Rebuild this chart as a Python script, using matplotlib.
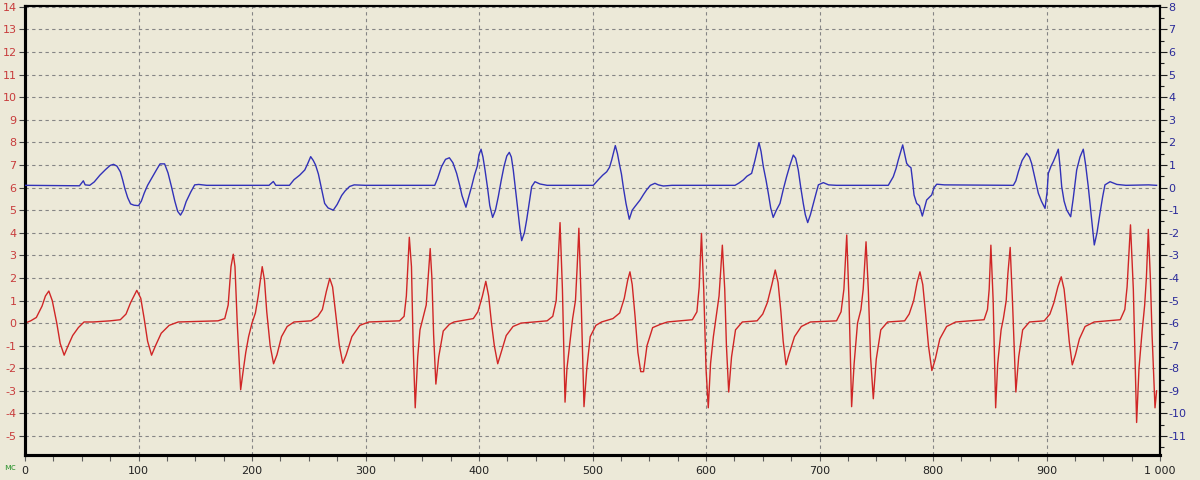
import matplotlib
matplotlib.use("Agg")
import matplotlib.pyplot as plt
from matplotlib.ticker import MultipleLocator, FixedLocator, FixedFormatter

plt.rcParams['axes.unicode_minus'] = False

# ---- data (time in ms) ----
red_t = [0, 5, 10, 15, 18, 21, 24, 28, 31, 34.5, 38, 42, 47, 52, 60, 75,
         84, 89, 93, 98.5, 102, 105, 108, 111.5, 115, 120, 127, 135, 170,
         176, 179, 181.5, 183.5, 185, 187, 190, 192, 194.5, 197, 200, 203, 205.5, 209, 211, 213, 216, 219, 222, 226, 231, 237,
         252, 258, 262, 265.5, 268.5, 271, 274, 277, 280, 283, 288, 295, 303,
         330, 334, 336, 338.6, 340.5, 342, 343.8, 346, 348, 351, 353.5, 355.5, 357, 358.5, 360, 362, 364.5, 368.5, 374, 378,
         395, 399, 403, 406, 408.5, 411, 413.5, 416.5, 419.5, 424, 430, 437,
         460, 465, 468, 471.4, 473.5, 475.8, 477.5, 480, 482.5, 485, 486.5, 488, 490, 492.5, 495, 498, 503, 508,
         518, 524, 528, 531, 533, 535, 537.5, 540, 542.5, 545, 548, 553, 560, 566,
         588, 592, 594, 596, 598, 600, 602, 604, 606.5, 609, 611.5, 614.4, 616.5, 618, 620, 622.5, 626, 632,
         645, 650, 654, 658, 661, 663.5, 666, 668, 670.5, 673, 678, 684, 692,
         715, 719, 721.5, 724, 726, 728.3, 730.5, 733.5, 736.5, 738.5, 741, 743, 745, 747.4, 750, 754, 760,
         775, 779, 783, 786, 788.5, 791, 793.5, 796, 799, 802, 806, 812, 820,
         845, 848, 849.5, 851, 853, 855.2, 857, 860, 862, 864.5, 866, 868, 870, 873, 875.5, 879, 885,
         898, 903, 906.5, 910, 913, 915.5, 918, 920, 922.7, 925.5, 929, 934, 942,
         965, 969, 971, 974, 976.5, 979.4, 981.5, 984, 986.5, 988, 989.7, 991.5, 993, 995.6, 997]
red_v = [0.0, 0.1, 0.25, 0.75, 1.2, 1.42, 1.0, 0.0, -0.9, -1.42, -1.0, -0.55, -0.2, 0.05, 0.05, 0.1,
         0.15, 0.4, 0.9, 1.45, 1.1, 0.2, -0.8, -1.42, -1.0, -0.45, -0.1, 0.05, 0.1,
         0.2, 0.8, 2.5, 3.05, 2.5, 0.0, -2.95, -2.2, -1.3, -0.6, 0.0, 0.45, 1.2, 2.5, 1.9, 0.5, -1.0, -1.8, -1.4, -0.6, -0.15, 0.05,
         0.1, 0.3, 0.6, 1.4, 1.98, 1.6, 0.3, -1.0, -1.78, -1.4, -0.6, -0.1, 0.05,
         0.1, 0.3, 1.2, 3.8, 2.5, -1.0, -3.75, -1.5, -0.3, 0.3, 0.8, 2.2, 3.3, 2.0, -0.5, -2.7, -1.5, -0.35, -0.05, 0.05,
         0.2, 0.5, 1.2, 1.85, 1.2, 0.0, -1.0, -1.8, -1.3, -0.55, -0.15, 0.0,
         0.1, 0.3, 1.0, 4.45, 1.5, -3.5, -2.0, -0.9, 0.2, 1.0, 2.5, 4.2, 1.0, -3.7, -2.0, -0.6, -0.1, 0.05,
         0.2, 0.45, 1.1, 1.9, 2.27, 1.7, 0.3, -1.3, -2.15, -2.15, -1.0, -0.2, -0.05, 0.05,
         0.15, 0.5, 1.6, 3.97, 1.5, -2.0, -3.75, -1.8, -0.6, 0.3, 1.2, 3.45, 1.5, -1.0, -3.05, -1.5, -0.3, 0.05,
         0.1, 0.4, 0.9, 1.7, 2.35, 1.8, 0.5, -0.8, -1.85, -1.4, -0.6, -0.15, 0.05,
         0.1, 0.5, 1.5, 3.9, 1.0, -3.7, -1.8, 0.0, 0.6, 1.5, 3.6, 1.5, -1.5, -3.35, -1.6, -0.3, 0.05,
         0.1, 0.4, 1.0, 1.8, 2.27, 1.7, 0.4, -1.0, -2.1, -1.6, -0.7, -0.15, 0.05,
         0.15, 0.6, 1.5, 3.45, 1.0, -3.75, -1.8, -0.3, 0.2, 1.0, 2.2, 3.35, 1.0, -3.05, -1.5, -0.3, 0.05,
         0.1, 0.4, 0.9, 1.6, 2.05, 1.5, 0.3, -0.8, -1.85, -1.4, -0.7, -0.15, 0.05,
         0.15, 0.6, 1.6, 4.35, 1.5, -4.4, -2.0, -0.5, 0.8, 2.0, 4.15, 2.0, -0.5, -3.75, -3.0]

blue_t = [0, 48, 51.4, 53, 57, 61, 66, 71, 75, 78, 81, 84, 86, 88, 90.5, 93, 96, 100, 102.5, 105, 108, 112, 116, 119, 123, 126, 129, 132, 134.5, 137, 139.5, 142, 146, 149.5, 153, 160,
          215, 218.8, 221, 233, 237, 242, 246.5, 249, 251.7, 254, 256, 258.5, 261, 264, 267, 271.6, 275, 279, 282, 286, 290, 300,
          361, 363.5, 367, 370.5, 373.9, 377, 380.3, 383, 385, 388.5, 391, 393.5, 396, 398.5, 400, 401.8, 403.5, 405.3, 407.5, 409.5, 412, 414.5, 417, 419.5, 422, 424.5, 426.7, 428.5, 430.2, 432, 434, 436, 437.6, 440, 442, 444.5, 446.4, 449.3, 453.7, 460,
          500.7, 505, 509, 512.5, 515, 516.9, 520.1, 522, 523.6, 525.5, 527.1, 529.5, 532.4, 535, 537.4, 541.9, 545, 547.7, 551, 555, 558, 562.4, 570,
          625.6, 629, 632.9, 636, 640.2, 643.2, 646.7, 648.5, 650.5, 653, 654.9, 657, 659.2, 662, 665.2, 668, 671, 674, 676.9, 679, 681.3, 683.5, 685.7, 687.5, 689.6, 692, 694.6, 697, 699, 703.4, 708, 715,
          760.6, 765, 767.5, 769.4, 773.3, 775, 776.8, 778.8, 780.6, 782, 783.3, 785.6, 788, 790.6, 792.5, 794.4, 798.8, 801, 803.3, 810,
          870.8, 873, 875.2, 878.5, 882.5, 885, 886.9, 889, 892.8, 895.5, 898.7, 900.5, 901.6, 904, 906, 908.5, 910.4, 912, 913.4, 915.5, 917.8, 921.3, 923.5, 926.6, 929.5, 932.4, 934.5, 936.8, 939.8, 942.1, 944.5, 947.1, 949.5, 951.5, 956, 962, 970, 990, 997]
blue_v = [0.1, 0.08, 0.3, 0.12, 0.1, 0.25, 0.55, 0.8, 0.98, 1.03, 0.95, 0.7, 0.35, -0.05, -0.45, -0.72, -0.78, -0.8, -0.6, -0.25, 0.1, 0.45, 0.8, 1.05, 1.05, 0.65, 0.05, -0.6, -1.05, -1.22, -1.0, -0.62, -0.2, 0.12, 0.14, 0.1,
          0.1, 0.27, 0.1, 0.1, 0.35, 0.55, 0.78, 1.05, 1.37, 1.2, 1.0, 0.6, 0.0, -0.7, -0.9, -1.0, -0.75, -0.35, -0.15, 0.05, 0.12, 0.1,
          0.1, 0.4, 0.93, 1.25, 1.32, 1.1, 0.63, 0.1, -0.35, -0.87, -0.4, 0.05, 0.55, 0.95, 1.45, 1.7, 1.35, 0.78, 0.0, -0.8, -1.32, -1.0, -0.4, 0.3, 0.93, 1.4, 1.56, 1.35, 0.78, 0.0, -0.9, -1.8, -2.35, -2.0, -1.43, -0.6, 0.04, 0.26, 0.16, 0.1,
          0.1, 0.34, 0.55, 0.7, 0.9, 1.22, 1.86, 1.5, 1.07, 0.6, 0.04, -0.7, -1.4, -1.0, -0.84, -0.55, -0.3, -0.1, 0.1, 0.19, 0.12, 0.07, 0.1,
          0.1, 0.2, 0.34, 0.5, 0.63, 1.22, 1.99, 1.6, 0.93, 0.3, -0.25, -0.9, -1.32, -1.0, -0.7, -0.1, 0.48, 1.0, 1.44, 1.3, 0.78, 0.0, -0.7, -1.2, -1.55, -1.2, -0.7, -0.25, 0.12, 0.22, 0.12, 0.1,
          0.1, 0.48, 0.85, 1.22, 1.89, 1.5, 1.07, 0.95, 0.88, 0.3, -0.33, -0.7, -0.8, -1.26, -0.9, -0.55, -0.33, 0.0, 0.15, 0.12,
          0.1, 0.3, 0.7, 1.2, 1.52, 1.35, 1.07, 0.6, -0.25, -0.6, -0.92, -0.2, 0.63, 0.95, 1.15, 1.45, 1.7, 0.9, 0.04, -0.6, -0.99, -1.29, -0.5, 0.78, 1.35, 1.7, 1.0, 0.04, -1.43, -2.54, -2.0, -1.14, -0.4, 0.12, 0.26, 0.14, 0.1, 0.12, 0.1]

x_ticks = [0, 100, 200, 300, 400, 500, 600, 700, 800, 900, 1000]
x_labels = ['0', '100', '200', '300', '400', '500', '600', '700', '800', '900', '1 000']
left_ticks = list(range(-5, 15))
right_ticks = list(range(-11, 9))

BG = '#ECE9D8'
RED = '#D02626'
BLUE = '#3232B8'

fig = plt.figure(figsize=(12, 4.8), dpi=100, facecolor=BG)
ax = fig.add_axes([25 / 1200, 1 - 455 / 480, (1160 - 25) / 1200, (455 - 6) / 480])
ax.set_facecolor(BG)
ax2 = ax.twinx()
ax2.patch.set_visible(False)

ax.set_xlim(0, 1000)
ax.set_ylim(-5.84, 14.04)
ax2.set_ylim(-11.84, 8.04)

ax.set_axisbelow(True)
ax.xaxis.set_major_locator(FixedLocator(x_ticks))
ax.xaxis.set_major_formatter(FixedFormatter(x_labels))
ax.xaxis.set_minor_locator(MultipleLocator(25))
ax.yaxis.set_major_locator(FixedLocator(left_ticks))
ax2.yaxis.set_major_locator(FixedLocator(right_ticks))
ax2.yaxis.set_minor_locator(MultipleLocator(0.5))
ax.grid(True, which='major', color='#858585', linestyle=(0, (3, 3)), linewidth=0.8)

ax.plot(red_t, red_v, color=RED, linewidth=1.0, zorder=3)
ax2.plot(blue_t, blue_v, color=BLUE, linewidth=1.0, zorder=3)

for a in (ax, ax2):
    a.spines['left'].set_linewidth(2.2)
    a.spines['bottom'].set_linewidth(2.2)
    a.spines['top'].set_linewidth(1.5)
    a.spines['right'].set_linewidth(1.5)
    for s in a.spines.values():
        s.set_color('black')

ax.tick_params(axis='y', which='major', direction='out', length=4, width=0.8, color='#404040',
               labelcolor='#C83C3C', labelsize=8, pad=2)
ax.tick_params(axis='x', which='major', direction='out', length=4, width=0.8, color='#606060',
               labelcolor='#222222', labelsize=8, pad=4)
ax.tick_params(axis='x', which='minor', direction='out', length=4, width=0.8, color='#606060')
ax2.tick_params(axis='y', which='major', direction='out', length=5, width=0.8, color='#202020',
                labelcolor='#2A2A9A', labelsize=8, pad=1)
ax2.tick_params(axis='y', which='minor', direction='out', length=3, width=0.8, color='#202020')

fig.text(10 / 1200, 1 - 468 / 480, 'мс', color='#3C9A3C', fontsize=6.5, ha='center', va='center')

fig.savefig('out.png', dpi=100, facecolor=BG)
